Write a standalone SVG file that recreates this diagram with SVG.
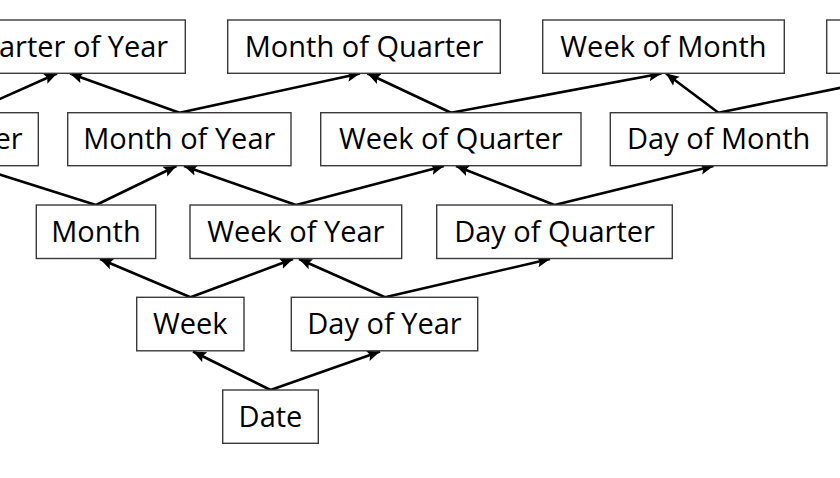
<svg xmlns="http://www.w3.org/2000/svg" width="840" height="478" viewBox="0 0 840 478">
<style>
.box rect{fill:#fff;stroke:#3a3a3a;stroke-width:1.4}
.box text{font-family:"Open Sans","Noto Sans","Liberation Sans",sans-serif;font-size:29px;fill:#000;text-anchor:middle}
.conn line{stroke:#000;stroke-width:2.6;fill:none;marker-end:url(#ah)}
</style>
<defs>
<marker id="ah" markerUnits="userSpaceOnUse" markerWidth="14" markerHeight="12" viewBox="0 0 14 12" refX="13" refY="6" orient="auto">
<path d="M0,0.5 L13,6 L0,11.5 L2.5,6 Z" fill="#000"/>
</marker>
</defs>
<rect width="840" height="478" fill="#fff"/>
<g id="connectors" class="conn">
<line x1="270.5" y1="390" x2="193" y2="351.5"/>
<line x1="270.5" y1="390" x2="380" y2="351.5"/>
<line x1="190.5" y1="297.3" x2="100" y2="259"/>
<line x1="190.5" y1="297.3" x2="293" y2="259"/>
<line x1="385" y1="297.3" x2="299" y2="259"/>
<line x1="385" y1="297.3" x2="550" y2="259"/>
<line x1="96" y1="205" x2="-27" y2="166"/>
<line x1="96" y1="205" x2="176.5" y2="166"/>
<line x1="296" y1="205" x2="184" y2="166"/>
<line x1="296" y1="205" x2="444" y2="166"/>
<line x1="554.5" y1="205" x2="456" y2="166"/>
<line x1="554.5" y1="205" x2="713.5" y2="166"/>
<line x1="-31" y1="112.7" x2="57" y2="73.5"/>
<line x1="179.5" y1="112.7" x2="70" y2="73.5"/>
<line x1="179.5" y1="112.7" x2="360" y2="73.5"/>
<line x1="451" y1="112.7" x2="367.5" y2="73.5"/>
<line x1="451" y1="112.7" x2="661.5" y2="73.5"/>
<line x1="718.5" y1="112.7" x2="666" y2="73.5"/>
<line x1="718.5" y1="112.7" x2="910" y2="73.5"/>
</g>
<g id="quarter-of-year" class="box"><rect x="-58.5" y="20" width="243.8" height="53.3"/><text x="63.4" y="56.7">Quarter of Year</text></g>
<g id="month-of-quarter" class="box"><rect x="227.7" y="20" width="272.6" height="53.3"/><text x="364" y="56.7">Month of Quarter</text></g>
<g id="week-of-month" class="box"><rect x="542.7" y="20" width="241.6" height="53.3"/><text x="663.5" y="56.7">Week of Month</text></g>
<g id="right-box" class="box"><rect x="826.7" y="20" width="180" height="53.3"/></g>
<g id="quarter" class="box"><rect x="-100" y="112.7" width="138.3" height="53"/><text x="-30.8" y="149.4">Quarter</text></g>
<g id="month-of-year" class="box"><rect x="67.7" y="112.7" width="223.3" height="53"/><text x="179.3" y="149.4">Month of Year</text></g>
<g id="week-of-quarter" class="box"><rect x="320.7" y="112.7" width="260.3" height="53"/><text x="450.8" y="149.4">Week of Quarter</text></g>
<g id="day-of-month" class="box"><rect x="610.3" y="112.7" width="216.7" height="53"/><text x="718.7" y="149.4">Day of Month</text></g>
<g id="month" class="box"><rect x="36.3" y="205" width="119.4" height="53.5"/><text x="96" y="241.7">Month</text></g>
<g id="week-of-year" class="box"><rect x="190" y="205" width="211.7" height="53.5"/><text x="295.8" y="241.7">Week of Year</text></g>
<g id="day-of-quarter" class="box"><rect x="436.7" y="205" width="235.6" height="53.5"/><text x="554.5" y="241.7">Day of Quarter</text></g>
<g id="week" class="box"><rect x="136.7" y="297.3" width="107.3" height="53.5"/><text x="190.3" y="334">Week</text></g>
<g id="day-of-year" class="box"><rect x="291.3" y="297.3" width="186.4" height="53.5"/><text x="384.5" y="334">Day of Year</text></g>
<g id="date" class="box"><rect x="222.7" y="390" width="95.6" height="53.3"/><text x="270.5" y="426.7">Date</text></g>
</svg>
